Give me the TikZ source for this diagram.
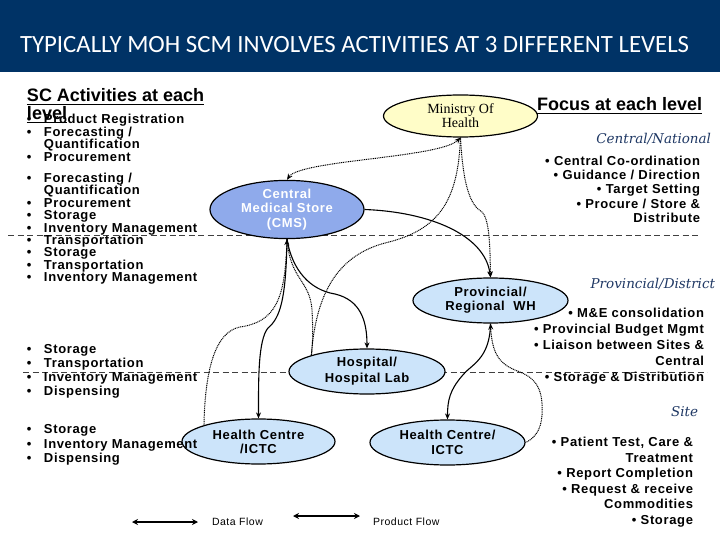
\documentclass[tikz,border=0pt]{standalone}
\usepackage{fontspec}
\setmainfont{Liberation Sans}
\newfontfamily\lsfont[LetterSpace=5]{Liberation Sans}
\newfontfamily\mohfont{Liberation Serif}
\newfontfamily\lvlfont{DejaVu Serif}
\newfontfamily\titlefont{Carlito}
\usetikzlibrary{shapes.geometric,arrows.meta}
\definecolor{navy}{RGB}{0,51,102}
\definecolor{mohfill}{RGB}{255,253,200}
\definecolor{cmsfill}{RGB}{143,170,235}
\definecolor{lblue}{RGB}{204,228,250}
\definecolor{lvlcol}{RGB}{31,56,100}
\newcommand\bu{\makebox[17pt][l]{•}}
\newcommand\ti{\hspace*{17pt}}
\newcommand\leftlist[2]{\vtop{\baselineskip=#1\lineskiplimit=-100pt\halign{##\hfil\cr#2\crcr}}}
\newcommand\rightlist[2]{\vtop{\baselineskip=#1\lineskiplimit=-100pt\halign{\hfil##\cr#2\crcr}}}
\newcommand\ulined[1]{\setbox0=\hbox{#1}\rlap{\vrule height -2pt depth 3.5pt width \wd0}\box0}
\begin{document}
\begin{tikzpicture}[x=1pt,y=-1pt,
  txt/.style={inner sep=0, outer sep=0},
  lst/.style={txt, font=\lsfont\fontsize{13}{13}\selectfont\bfseries},
  head/.style={txt, font=\fontsize{18}{18}\selectfont\bfseries},
  lvl/.style={txt, anchor=base east, text=lvlcol, font=\lvlfont\itshape\fontsize{13.5}{14}\selectfont},
  ell/.style={ellipse, draw=black, line width=1.2pt, inner sep=0, minimum width=154pt, minimum height=45pt, align=center, fill=lblue, font=\lsfont\fontsize{13}{14}\selectfont\bfseries},
  sep/.style={draw=black!75, line width=0.8pt, dash pattern=on 6pt off 3.5pt},
  prod/.style={line width=1.1pt},
  data/.style={line width=1pt, dash pattern=on 1pt off 0.8pt},
  >={Stealth[length=6pt,width=5pt]},
  leg/.style={line width=2pt, {Stealth[length=6pt,width=6pt]}-{Stealth[length=6pt,width=6pt]}},
  legtxt/.style={txt, anchor=base west, font=\lsfont\fontsize{10.5}{11}\selectfont}
]
\useasboundingbox (0,0) rectangle (720,540);
\fill[navy] (0,0) rectangle (720,72);
\node[txt, anchor=base west, text=white, font=\titlefont\fontsize{24.8}{26}\selectfont] (title) at (20,52.5) {TYPICALLY MOH SCM INVOLVES ACTIVITIES AT 3 DIFFERENT LEVELS};

% level separators
\draw[sep] (8,235) -- (700,235);
\draw[sep] (23,372) -- (707,372);

% ellipses
\node[ell, fill=mohfill, minimum height=42pt, font=\mohfont\fontsize{14}{14}\selectfont] (moh) at (460.5,116) {Ministry Of\\Health};
\node[ell, fill=cmsfill, text=white, font=\lsfont\fontsize{13}{14.5}\selectfont\bfseries] (cms) at (287,209.5) {Central\\Medical Store\\(CMS)};
\node[ell, minimum width=155pt] (prov) at (490.5,300.5) {Provincial/\\Regional\ \ WH};
\node[ell, minimum width=156pt, font=\lsfont\fontsize{13}{16}\selectfont\bfseries] (hosp) at (367,371.5) {Hospital/\\Hospital Lab};
\node[ell, minimum width=153pt] (hcl) at (258.5,441.5) {Health Centre\\/ICTC};
\node[ell, minimum width=155pt, font=\lsfont\fontsize{13}{15}\selectfont\bfseries] (hcr) at (447.5,442.5) {Health Centre/\\ICTC};

% headings
\node[head, anchor=base west] (sch) at (27,102) {\leftlist{18pt}{\ulined{SC Activities at each}\cr\ulined{level}}};
\node[head, anchor=base west] (foc) at (537,111) {\ulined{Focus at each level}};

% left lists
\node[lst, anchor=base west] (g1) at (27,123.5) {\leftlist{12.7pt}{\bu Product Registration\cr\bu Forecasting /\cr\ti Quantification\cr\bu Procurement}};
\node[lst, anchor=base west] (g2) at (27,182.5) {\leftlist{12.4pt}{\bu Forecasting /\cr\ti Quantification\cr\bu Procurement\cr\bu Storage\cr\bu Inventory Management\cr\bu Transportation\cr\bu Storage\cr\bu Transportation\cr\bu Inventory Management}};
\node[lst, anchor=base west] (g3) at (27,353.5) {\leftlist{14pt}{\bu Storage\cr\bu Transportation\cr\bu Inventory Management\cr\bu Dispensing}};
\node[lst, anchor=base west] (g4) at (27,433.5) {\leftlist{14.5pt}{\bu Storage\cr\bu Inventory Management\cr\bu Dispensing}};

% right column
\node[lvl] (lvc) at (711,144) {Central/National};
\node[lst, anchor=base east] (rc) at (700,165.5) {\rightlist{14.2pt}{• Central Co-ordination\cr• Guidance / Direction\cr• Target Setting\cr• Procure / Store \&\cr Distribute}};
\node[lvl] (lvp) at (715,288) {Provincial/District};
\node[lst, anchor=base east] (rp) at (704,317.5) {\rightlist{16pt}{• M\&E consolidation\cr• Provincial Budget Mgmt\cr• Liaison between Sites \&\cr Central\cr• Storage \& Distribution}};
\node[lvl] (lvs) at (698,416) {Site};
\node[lst, anchor=base east] (rs) at (693,446.5) {\rightlist{15.6pt}{• Patient Test, Care \&\cr Treatment\cr• Report Completion\cr• Request \& receive\cr Commodities\cr• Storage}};

% connectors
\draw[data,<->] (moh.south) .. controls (440,158) and (300,160) .. (cms.north);
\draw[data,->] (moh.south) .. controls (463,185) and (470,205) .. (482,212) .. controls (490,220) and (490,250) .. (prov.north);
\draw[data] (moh.south) .. controls (458,200) and (440,230) .. (385,243) .. controls (340,255) and (316,290) .. (hosp.north west);
\draw[prod,->] (cms.east) .. controls (430,212) and (485,235) .. (prov.north);
\draw[data,<-] (cms.south) .. controls (285,300) and (275,322) .. (240,327) .. controls (215,332) and (205,370) .. (hcl.north west);
\draw[prod,->] (cms.south) .. controls (286,300) and (280,318) .. (268,328) .. controls (258,340) and (258.5,380) .. (hcl.north);
\draw[data] (cms.south) .. controls (290,280) and (310,280) .. (312,310) .. controls (313,330) and (313,340) .. (hosp.north west);
\draw[prod,->] (cms.south) .. controls (292,270) and (310,290) .. (335,294) .. controls (360,300) and (367,320) .. (hosp.north);
\draw[prod,->] (prov.south) .. controls (490,360) and (470,365) .. (462,376) .. controls (450,390) and (447.5,400) .. (hcr.north);
\draw[data,<-] (prov.south) .. controls (492,355) and (500,365) .. (520,372) .. controls (540,380) and (543,395) .. (542,415) .. controls (541,430) and (535,438) .. (hcr.east);

% legend
\coordinate (d1) at (132,522);
\coordinate (d2) at (198,522);
\coordinate (p1) at (293,516);
\coordinate (p2) at (360,516);
\draw[leg] (d1) -- (d2);
\draw[leg] (p1) -- (p2);
\node[legtxt] (dl) at (212,525.5) {Data Flow};
\node[legtxt] (pl) at (373,525) {Product Flow};
\end{tikzpicture}
\end{document}
